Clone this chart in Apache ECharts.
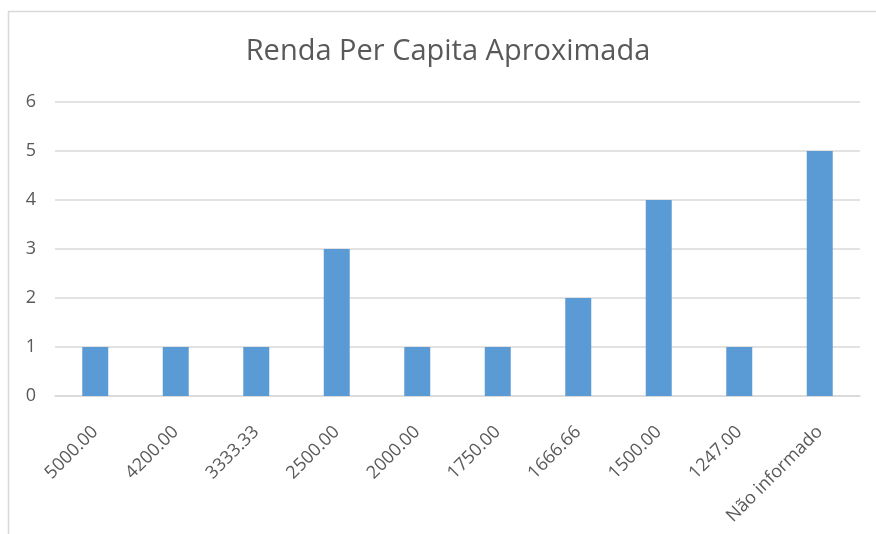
<!DOCTYPE html>
<html>
<head>
<meta charset="utf-8">
<script src="https://cdn.jsdelivr.net/npm/echarts@6/dist/echarts.min.js"></script>
<style>html,body{margin:0;padding:0;background:#fff}#c{width:876px;height:534px}</style>
</head>
<body>
<div id="c"></div>
<script>
const titleText = "Renda Per Capita Aproximada";
const categories = ["5000.00","4200.00","3333.33","2500.00","2000.00","1750.00","1666.66","1500.00","1247.00","Não informado"];
const values = [1,1,1,3,1,1,2,4,1,5];
const yTicks = [0,1,2,3,4,5,6];

const chart = echarts.init(document.getElementById('c'), null, {renderer:'canvas'});
const FONT = '"Open Sans", sans-serif';
chart.setOption({
  animation:false,
  backgroundColor:'#fff',
  graphic:[
    {type:'rect', shape:{x:8.5,y:11.5,width:900,height:600}, style:{fill:'none',stroke:'#D9D9D9',lineWidth:1.5}, silent:true},
    {type:'text', x:448, y:52, style:{text:titleText, fontFamily:FONT, fontSize:29, fill:'#595959', align:'center', verticalAlign:'middle'}, silent:true}
  ],
  grid:{left:55, right:16, top:102, bottom:138, containLabel:false},
  xAxis:{type:'category', data:categories,
    axisLine:{lineStyle:{color:'#D9D9D9',width:1.5}}, axisTick:{show:false},
    axisLabel:{rotate:45, interval:0, margin:33, fontFamily:FONT, fontSize:18, color:'#595959'}},
  yAxis:{type:'value', min:yTicks[0], max:yTicks[yTicks.length-1], interval:1,
    axisLine:{show:false}, axisTick:{show:false},
    splitLine:{lineStyle:{color:'#D9D9D9',width:1.5}},
    axisLabel:{margin:19, fontFamily:FONT, fontSize:18, color:'#595959'}},
  series:[{type:'bar', data:values, barWidth:26, itemStyle:{color:'#5B9BD5'}}]
});
</script>
</body>
</html>
